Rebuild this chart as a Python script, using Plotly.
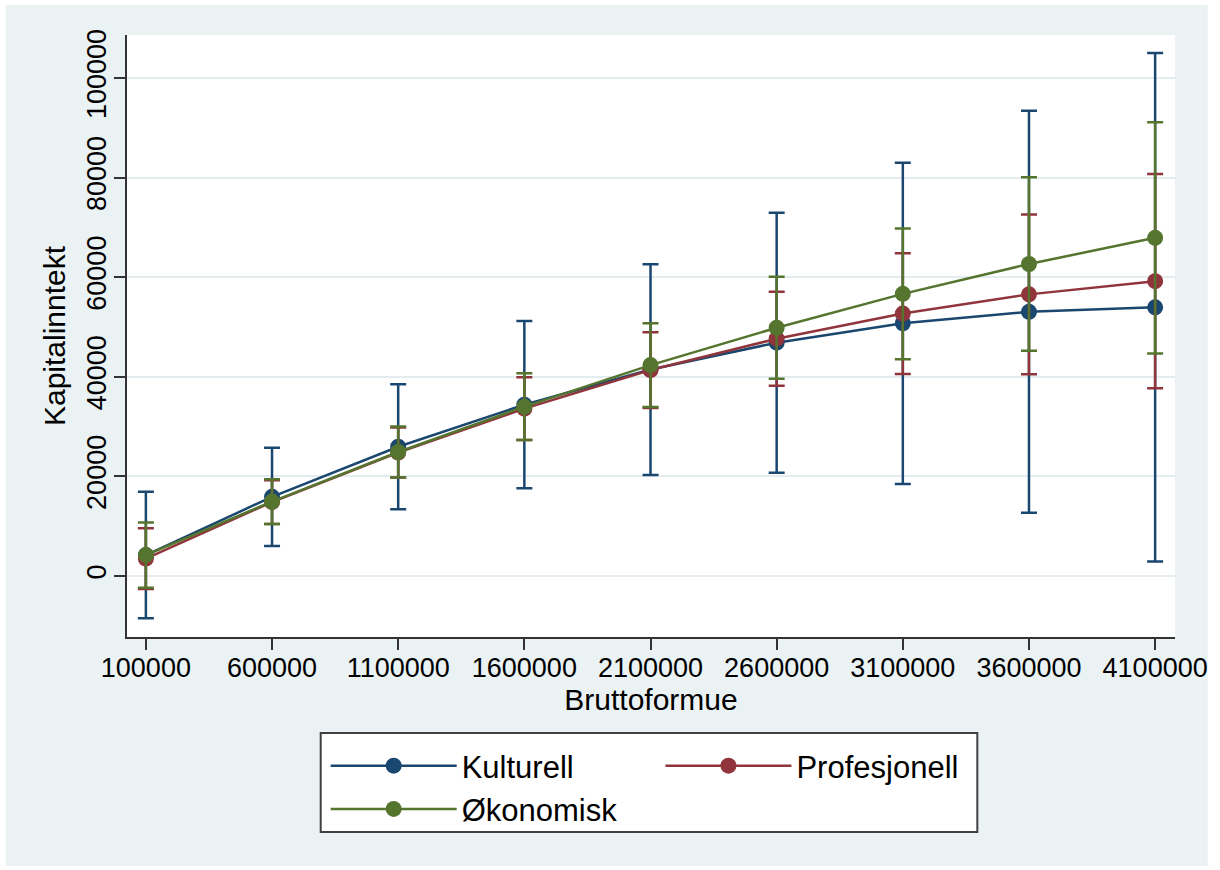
import plotly.graph_objects as go

# ---- data ----
bruttoformue = [100000, 600000, 1100000, 1600000, 2100000, 2600000, 3100000, 3600000, 4100000]

kulturell_mean = [4200, 15900, 25950, 34400, 41450, 46850, 50750, 53050, 53950]
kulturell_lo = [-8500, 6000, 13400, 17600, 20300, 20750, 18450, 12700, 2900]
kulturell_hi = [16900, 25750, 38500, 51200, 62600, 72950, 83000, 93400, 105000]

profesjonell_mean = [3500, 14850, 24800, 33600, 41350, 47650, 52700, 56550, 59200]
profesjonell_lo = [-2600, 10450, 19800, 27300, 33750, 38200, 40550, 40500, 37700]
profesjonell_hi = [9600, 19250, 29800, 39900, 48950, 57100, 64800, 72600, 80700]

okonomisk_mean = [4200, 14950, 24900, 34000, 42350, 49850, 56650, 62650, 67900]
okonomisk_lo = [-2350, 10450, 19800, 27300, 33950, 39600, 43500, 45250, 44700]
okonomisk_hi = [10750, 19450, 30000, 40700, 50750, 60100, 69800, 80050, 91100]

y_ticks = [0, 20000, 40000, 60000, 80000, 100000]

series = [
    ("Kulturell", kulturell_mean, kulturell_lo, kulturell_hi, "#1a476f", "legend"),
    ("Profesjonell", profesjonell_mean, profesjonell_lo, profesjonell_hi, "#90353b", "legend2"),
    ("Økonomisk", okonomisk_mean, okonomisk_lo, okonomisk_hi, "#55752f", "legend"),
]

FONT = "Liberation Sans, Arial, Helvetica, sans-serif"
BG = "#eaf2f3"

fig = go.Figure()
for name, m, lo, hi, col, leg in series:
    fig.add_trace(go.Scatter(
        x=bruttoformue, y=m, name=name, mode="lines+markers",
        line=dict(color=col, width=2.5),
        marker=dict(color=col, size=16, line=dict(width=0)),
        error_y=dict(type="data", symmetric=False,
                     array=[h - v for h, v in zip(hi, m)],
                     arrayminus=[v - l for l, v in zip(lo, m)],
                     color=col, thickness=2.5, width=8),
        legend=leg,
    ))

L, R, T, B = 127, 38, 35, 233
W, H = 1220, 870
pw, ph = W - L - R, H - T - B

def px_x(p):
    return (p - L) / pw

def px_y(p):
    return (H - B - p) / ph

fig.update_layout(
    width=W, height=H,
    margin=dict(l=L, r=R, t=T, b=B, pad=0),
    paper_bgcolor="white",
    plot_bgcolor="rgba(0,0,0,0)",
    font=dict(family=FONT, color="black", size=27),
    showlegend=True,
    legend=dict(x=px_x(327), y=px_y(739), xanchor="left", yanchor="top",
                bgcolor="rgba(0,0,0,0)", borderwidth=0, itemwidth=126,
                font=dict(size=31, family=FONT), tracegroupgap=0),
    legend2=dict(x=px_x(664), y=px_y(739), xanchor="left", yanchor="top",
                 bgcolor="rgba(0,0,0,0)", borderwidth=0, itemwidth=126,
                 font=dict(size=31, family=FONT)),
    xaxis=dict(
        range=[25200, 4178700], tickvals=bruttoformue,
        ticktext=[str(v) for v in bruttoformue],
        showgrid=False, zeroline=False,
        showline=True, linecolor="#333333", linewidth=1.5,
        ticks="outside", ticklen=11, tickwidth=1.5, tickcolor="#333333",
        tickfont=dict(size=27, family=FONT),
        ticklabelstandoff=-5,
        title=dict(text="Bruttoformue", font=dict(size=30, family=FONT), standoff=6),
    ),
    yaxis=dict(
        range=[-12250, 108630], tickvals=y_ticks,
        ticktext=[str(v) for v in y_ticks],
        tickangle=-90,
        showgrid=True, gridcolor="#e3ecee", gridwidth=2,
        zeroline=False,
        showline=True, linecolor="#333333", linewidth=1.5,
        ticks="outside", ticklen=11, tickwidth=1.5, tickcolor="#333333",
        tickfont=dict(size=27, family=FONT),
        ticklabelstandoff=-3,
        title=dict(text="Kapitalinntekt", font=dict(size=30, family=FONT), standoff=8),
    ),
    shapes=[
        # outer graph region
        dict(type="rect", xref="paper", yref="paper", layer="below",
             x0=px_x(5), x1=px_x(1215), y0=px_y(866), y1=px_y(5),
             fillcolor=BG, line=dict(width=0)),
        # white plot region
        dict(type="rect", xref="paper", yref="paper", layer="below",
             x0=0, x1=1, y0=0, y1=1,
             fillcolor="white", line=dict(width=0)),
        # legend box
        dict(type="rect", xref="paper", yref="paper", layer="above",
             x0=px_x(322), x1=px_x(983), y0=px_y(832), y1=px_y(733),
             fillcolor="white", line=dict(color="#404040", width=2)),
    ],
)

fig.write_html("out.html")
